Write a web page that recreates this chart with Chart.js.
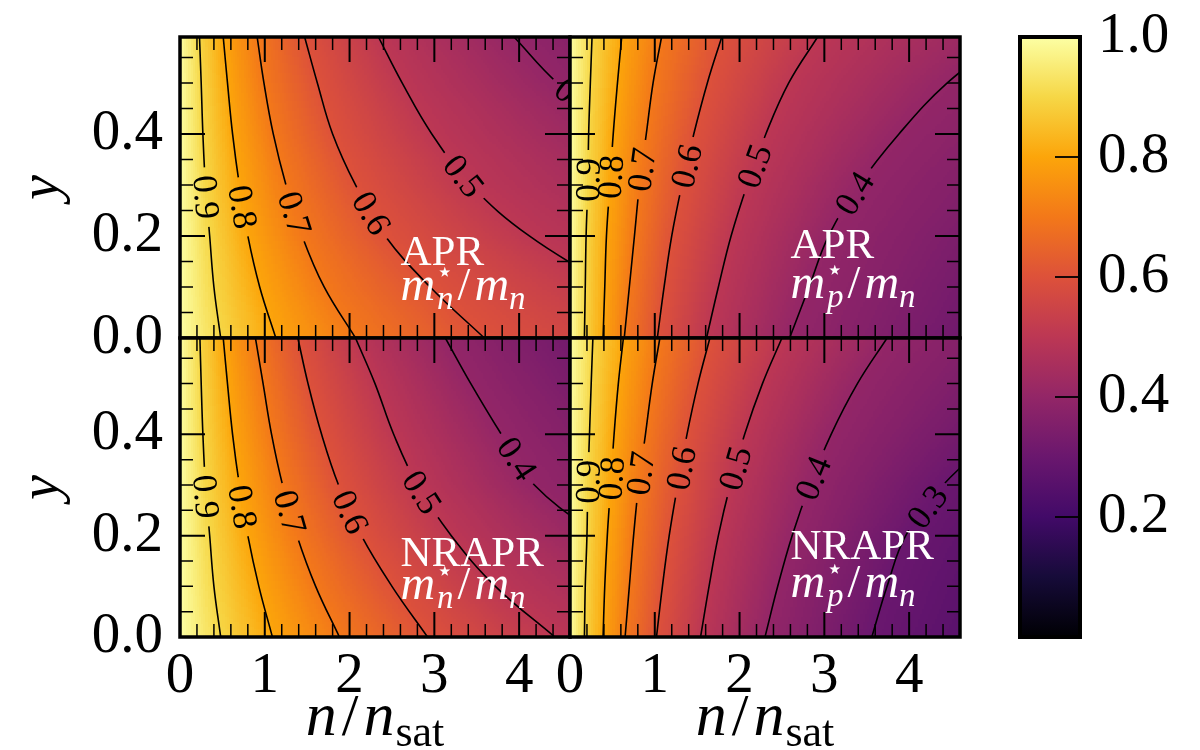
<!DOCTYPE html>
<html>
<head>
<meta charset="utf-8">
<script src="https://cdn.jsdelivr.net/npm/chart.js@4.4.0/dist/chart.umd.min.js"></script>
<style>
  html, body { margin: 0; padding: 0; background: #fff; overflow: hidden; }
  #wrap { position: relative; width: 1200px; height: 750px; }
  #wrap canvas { position: absolute; left: 0; top: 0; }
</style>
</head>
<body>
<div id="wrap">
  <canvas id="aprN" width="1200" height="750"></canvas>
  <canvas id="aprP" width="1200" height="750"></canvas>
  <canvas id="nrN" width="1200" height="750"></canvas>
  <canvas id="nrP" width="1200" height="750"></canvas>
  <canvas id="cbar" width="1200" height="750"></canvas>
</div>
<script>
// y (isospin asymmetry) values at which every contour position was read
const contourY = [0, 0.1, 0.2, 0.3, 0.4, 0.5, 0.59];
// contour levels of m*/m, one row per level below
const levels = [0.9, 0.8, 0.7, 0.6, 0.5, 0.4, 0.3, 0.2];

// n/n_sat where each level is crossed, at each contourY (beyond 4.6 = off the panel, estimated)
const aprNeutron = [
  [0.48, 0.40, 0.35, 0.30, 0.27, 0.25, 0.23],
  [1.13, 0.94, 0.80, 0.70, 0.62, 0.56, 0.51],
  [2.07, 1.70, 1.44, 1.25, 1.10, 0.99, 0.91],
  [3.59, 2.95, 2.42, 2.07, 1.80, 1.62, 1.47],
  [6.2, 5.1, 4.12, 3.43, 2.97, 2.62, 2.34],
  [11.0, 9.2, 7.4, 6.1, 5.2, 4.45, 3.94],
  [17.0, 14.0, 11.0, 9.0, 7.8, 6.9, 6.3]
];
const aprProton = [
  [0.17, 0.18, 0.19, 0.21, 0.22, 0.24, 0.26],
  [0.39, 0.41, 0.43, 0.47, 0.51, 0.56, 0.61],
  [0.64, 0.70, 0.76, 0.82, 0.90, 0.98, 1.08],
  [1.03, 1.11, 1.20, 1.32, 1.46, 1.62, 1.79],
  [1.61, 1.75, 1.90, 2.09, 2.31, 2.58, 2.92],
  [2.59, 2.82, 3.05, 3.41, 3.88, 4.45, 5.15],
  [4.9, 5.3, 5.8, 6.5, 7.4, 8.5, 9.8]
];
const nrAprNeutron = [
  [0.48, 0.40, 0.35, 0.30, 0.27, 0.25, 0.235],
  [1.09, 0.93, 0.80, 0.70, 0.62, 0.56, 0.51],
  [1.88, 1.60, 1.38, 1.21, 1.08, 0.98, 0.89],
  [2.92, 2.50, 2.14, 1.87, 1.67, 1.51, 1.39],
  [4.42, 3.72, 3.20, 2.80, 2.52, 2.30, 2.07],
  [7.0, 5.9, 4.95, 4.18, 3.79, 3.43, 3.13],
  [11.0, 9.5, 8.0, 6.8, 6.0, 5.4, 5.0]
];
const nrAprProton = [
  [0.17, 0.18, 0.20, 0.21, 0.23, 0.25, 0.27],
  [0.39, 0.41, 0.44, 0.48, 0.52, 0.57, 0.63],
  [0.65, 0.70, 0.75, 0.81, 0.89, 0.97, 1.06],
  [1.02, 1.09, 1.17, 1.27, 1.38, 1.51, 1.65],
  [1.54, 1.64, 1.75, 1.89, 2.06, 2.27, 2.50],
  [2.30, 2.45, 2.62, 2.83, 3.08, 3.39, 3.74],
  [3.56, 3.74, 3.96, 4.40, 5.05, 5.7, 6.4],
  [6.0, 6.4, 6.9, 7.6, 8.5, 9.5, 10.6]
];

const xTicks = [0, 1, 2, 3, 4];
const yTicks = [0, 0.2, 0.4];
const cbarTicks = [0.2, 0.4, 0.6, 0.8, 1.0];

const FONT = '"Liberation Serif", "DejaVu Serif", serif';
const inferno = ['#000004', '#160b39', '#420a68', '#6a176e', '#932667', '#bc3754',
                 '#dd513a', '#f37819', '#fca50a', '#f6d746', '#fcffa4'];

// label y position per contour (null = no label), and text placement
const panels = {
  aprN: { rows: aprNeutron, area: [180, 37, 570, 338], yAxis: true, xAxis: false,
          labelY: [0.276, 0.257, 0.245, 0.245, 0.318, 0.47, null],
          model: 'APR', sub: 'n', textN: 2.6, textY: [0.143, 0.074] },
  aprP: { rows: aprProton, area: [570, 37, 960, 338], yAxis: false, xAxis: false,
          labelY: [0.31, 0.316, 0.33, 0.337, 0.337, 0.284, null],
          model: 'APR', sub: 'p', textN: 2.6, textY: [0.157, 0.078] },
  nrN: { rows: nrAprNeutron, area: [180, 338, 570, 637], yAxis: true, xAxis: true,
         labelY: [0.277, 0.257, 0.247, 0.247, 0.286, 0.352, null],
         model: 'NRAPR', sub: 'n', textN: 2.6, textY: [0.14, 0.074] },
  nrP: { rows: nrAprProton, area: [570, 338, 960, 637], yAxis: false, xAxis: true,
         labelY: [0.306, 0.313, 0.323, 0.333, 0.333, 0.314, 0.257, null],
         model: 'NRAPR', sub: 'p', textN: 2.6, textY: [0.153, 0.078] }
};

function hexRgb(h) {
  return [parseInt(h.slice(1, 3), 16), parseInt(h.slice(3, 5), 16), parseInt(h.slice(5, 7), 16)];
}
const lut = [];
(function () {
  const rgb = inferno.map(hexRgb);
  for (let i = 0; i < 256; i++) {
    const t = i / 255 * 10;
    const k = Math.min(9, Math.floor(t));
    const f = t - k;
    const c = rgb[k].map((v, j) => Math.round(v + (rgb[k + 1][j] - v) * f));
    lut.push('rgb(' + c.join(',') + ')');
  }
})();
function colorOf(v) {
  return lut[Math.max(0, Math.min(255, Math.round(v * 255)))];
}

function nAtY(row, y) {
  let i = 0;
  while (i < contourY.length - 2 && y > contourY[i + 1]) i++;
  const f = (y - contourY[i]) / (contourY[i + 1] - contourY[i]);
  return row[i] + (row[i + 1] - row[i]) * f;
}

function valueAt(knots, n) {
  for (let k = 1; k < knots.length; k++) {
    if (n <= knots[k][0]) {
      const a = knots[k - 1], b = knots[k];
      return a[1] + (b[1] - a[1]) * (n - a[0]) / (b[0] - a[0]);
    }
  }
  const a = knots[knots.length - 2], b = knots[knots.length - 1];
  return b[1] + (b[1] - a[1]) * (n - b[0]) / (b[0] - a[0]);
}

function labelGeom(chart, row, ly) {
  const xs = chart.scales.x, ys = chart.scales.y;
  const cx = xs.getPixelForValue(nAtY(row, ly)), cy = ys.getPixelForValue(ly);
  const ax = xs.getPixelForValue(nAtY(row, ly + 0.02)), ay = ys.getPixelForValue(ly + 0.02);
  const bx = xs.getPixelForValue(nAtY(row, ly - 0.02)), by = ys.getPixelForValue(ly - 0.02);
  let ang = Math.atan2(ay - by, ax - bx);
  if (ang > Math.PI / 2) ang -= Math.PI;
  if (ang < -Math.PI / 2) ang += Math.PI;
  return { cx, cy, ang };
}

const LABEL_SIZE = 35;

function drawRich(ctx, x, y, parts, align) {
  let total = 0;
  for (const p of parts) {
    ctx.font = (p.italic ? 'italic ' : '') + p.size + 'px ' + FONT;
    if (!p.over) total += ctx.measureText(p.t).width + (p.dx || 0);
  }
  let cx = align === 'center' ? x - total / 2 : x;
  for (const p of parts) {
    ctx.font = (p.italic ? 'italic ' : '') + p.size + 'px ' + FONT;
    cx += p.dx || 0;
    ctx.fillText(p.t, cx, y + (p.dy || 0));
    if (!p.over) cx += ctx.measureText(p.t).width;
  }
}

const panelPlugin = {
  id: 'panelDraw',
  beforeDatasetsDraw(chart) {
    const cfg = panels[chart.canvas.id];
    const ctx = chart.ctx, xs = chart.scales.x, ys = chart.scales.y;
    const a = chart.chartArea;
    ctx.save();
    ctx.beginPath();
    ctx.rect(a.left, a.top, a.right - a.left, a.bottom - a.top);
    ctx.clip();
    const dy = 0.005, dn = 0.025;
    for (let j = 0; j * dy < 0.59; j++) {
      const y0 = j * dy, yc = y0 + dy / 2;
      const knots = [[0, 1]].concat(cfg.rows.map((r, k) => [nAtY(r, yc), levels[k]]));
      const py0 = Math.round(ys.getPixelForValue(y0 + dy)), py1 = Math.round(ys.getPixelForValue(y0));
      for (let i = 0; i * dn < 4.6; i++) {
        const n0 = i * dn;
        const px0 = Math.round(xs.getPixelForValue(n0)), px1 = Math.round(xs.getPixelForValue(n0 + dn));
        ctx.fillStyle = colorOf(valueAt(knots, n0 + dn / 2));
        ctx.fillRect(px0, py0, px1 - px0, py1 - py0);
      }
    }
    ctx.restore();
  },
  beforeDatasetDraw(chart, args) {
    const cfg = panels[chart.canvas.id];
    const ctx = chart.ctx;
    ctx.save();
    const ly = cfg.labelY[args.index];
    if (ly == null) return;
    const g = labelGeom(chart, cfg.rows[args.index], ly);
    ctx.font = LABEL_SIZE + 'px ' + FONT;
    const w = ctx.measureText(levels[args.index].toFixed(1)).width + 16, h = LABEL_SIZE * 0.8;
    const c = Math.cos(g.ang), s = Math.sin(g.ang);
    const pts = [[-w / 2, -h / 2], [w / 2, -h / 2], [w / 2, h / 2], [-w / 2, h / 2]]
      .map(([u, v]) => [g.cx + u * c - v * s, g.cy + u * s + v * c]);
    ctx.beginPath();
    ctx.rect(0, 0, chart.width, chart.height);
    ctx.moveTo(pts[0][0], pts[0][1]);
    for (let k = 1; k < 4; k++) ctx.lineTo(pts[k][0], pts[k][1]);
    ctx.closePath();
    ctx.clip('evenodd');
  },
  afterDatasetDraw(chart) {
    chart.ctx.restore();
  },
  afterDatasetsDraw(chart) {
    const cfg = panels[chart.canvas.id];
    const ctx = chart.ctx, xs = chart.scales.x, ys = chart.scales.y;
    const a = chart.chartArea;

    // contour labels
    ctx.save();
    ctx.beginPath();
    ctx.rect(a.left, a.top, a.right - a.left, a.bottom - a.top);
    ctx.clip();
    ctx.fillStyle = '#000';
    ctx.font = LABEL_SIZE + 'px ' + FONT;
    ctx.textAlign = 'center';
    ctx.textBaseline = 'alphabetic';
    cfg.labelY.forEach((ly, k) => {
      if (ly == null) return;
      const g = labelGeom(chart, cfg.rows[k], ly);
      ctx.save();
      ctx.translate(g.cx, g.cy);
      ctx.rotate(g.ang);
      ctx.fillText(levels[k].toFixed(1), 0, LABEL_SIZE * 0.33);
      ctx.restore();
    });

    // model name and quantity
    ctx.fillStyle = '#fff';
    ctx.textAlign = 'left';
    const tx = xs.getPixelForValue(cfg.textN);
    ctx.font = '43px ' + FONT;
    ctx.fillText(cfg.model, tx, ys.getPixelForValue(cfg.textY[0]));
    drawRich(ctx, tx, ys.getPixelForValue(cfg.textY[1]), [
      { t: 'm', size: 48, italic: true },
      { t: '\u22C6', size: 28, dy: -19, dx: 1, over: true },
      { t: cfg.sub, size: 33, italic: true, dy: 9, dx: 1 },
      { t: '/', size: 46, dx: 4 },
      { t: 'm', size: 48, italic: true, dx: 4 },
      { t: 'n', size: 33, italic: true, dy: 9 }
    ], 'left');
    ctx.restore();

    // inward ticks on all four sides
    ctx.save();
    ctx.strokeStyle = '#000';
    for (let i = 0; i * 0.2 <= 4.6 + 1e-9; i++) {
      const major = i % 5 === 0, L = major ? 25 : 13;
      const px = xs.getPixelForValue(i * 0.2);
      ctx.lineWidth = major ? 2 : 1.5;
      ctx.beginPath();
      ctx.moveTo(px, a.top); ctx.lineTo(px, a.top + L);
      ctx.moveTo(px, a.bottom); ctx.lineTo(px, a.bottom - L);
      ctx.stroke();
    }
    for (let i = 0; i * 0.05 <= 0.59 + 1e-9; i++) {
      const major = i % 4 === 0, L = major ? 25 : 13;
      const py = ys.getPixelForValue(i * 0.05);
      ctx.lineWidth = major ? 2 : 1.5;
      ctx.beginPath();
      ctx.moveTo(a.left, py); ctx.lineTo(a.left + L, py);
      ctx.moveTo(a.right, py); ctx.lineTo(a.right - L, py);
      ctx.stroke();
    }
    ctx.lineWidth = 3.5;
    ctx.strokeRect(a.left, a.top, a.right - a.left, a.bottom - a.top);

    // axis titles
    ctx.fillStyle = '#000';
    if (cfg.yAxis) {
      ctx.save();
      ctx.translate(58, (a.top + a.bottom) / 2);
      ctx.rotate(-Math.PI / 2);
      ctx.textAlign = 'center';
      ctx.font = 'italic 56px ' + FONT;
      ctx.fillText('y', 0, 0);
      ctx.restore();
    }
    if (cfg.xAxis) {
      ctx.textAlign = 'left';
      drawRich(ctx, (a.left + a.right) / 2, 735, [
        { t: 'n', size: 62, italic: true },
        { t: '/', size: 60, dx: 5 },
        { t: 'n', size: 62, italic: true, dx: 5 },
        { t: 'sat', size: 44, dy: 11, dx: 1 }
      ], 'center');
    }
    ctx.restore();
  }
};

function fixSize(size) {
  return function (s) {
    if (!s.options.display) {
      s.width = s.isHorizontal() ? s.width : 0;
      s.height = s.isHorizontal() ? 0 : s.height;
    } else if (s.isHorizontal()) {
      s.height = size;
    } else {
      s.width = size;
    }
    s.paddingLeft = s.paddingRight = s.paddingTop = s.paddingBottom = 0;
  };
}

const tickFont = { family: FONT, size: 57 };

Object.keys(panels).forEach(id => {
  const cfg = panels[id];
  const [l, t, r, b] = cfg.area;
  new Chart(document.getElementById(id), {
    type: 'scatter',
    data: {
      datasets: cfg.rows.map((row, k) => ({
        label: levels[k].toFixed(1),
        data: contourY.map((y, i) => ({ x: row[i], y: y })),
        showLine: true,
        borderColor: '#000',
        borderWidth: 1.6,
        pointRadius: 0,
        tension: 0.4,
        clip: 0
      }))
    },
    options: {
      responsive: false,
      animation: false,
      events: [],
      layout: {
        autoPadding: false,
        padding: { left: l - (cfg.yAxis ? 110 : 0), top: t, right: 1200 - r, bottom: 750 - b - (cfg.xAxis ? 70 : 0) }
      },
      elements: { line: { capBezierPoints: false } },
      plugins: { legend: { display: false }, tooltip: { enabled: false } },
      scales: {
        x: {
          type: 'linear', min: 0, max: 4.6, display: cfg.xAxis,
          grid: { display: false, drawTicks: false }, border: { display: false },
          afterBuildTicks: s => { s.ticks = xTicks.map(v => ({ value: v })); },
          afterFit: fixSize(70),
          ticks: { font: tickFont, color: '#000', padding: 6, maxRotation: 0, autoSkip: false,
                   callback: v => String(v) }
        },
        y: {
          type: 'linear', min: 0, max: 0.59, display: cfg.yAxis,
          grid: { display: false, drawTicks: false }, border: { display: false },
          afterBuildTicks: s => { s.ticks = yTicks.map(v => ({ value: v })); },
          afterFit: fixSize(110),
          ticks: { font: tickFont, color: '#000', padding: 17, autoSkip: false,
                   callback: v => v.toFixed(1) }
        }
      }
    },
    plugins: [panelPlugin]
  });
});

// colour bar
new Chart(document.getElementById('cbar'), {
  type: 'scatter',
  data: { datasets: [] },
  options: {
    responsive: false,
    animation: false,
    events: [],
    layout: { autoPadding: false, padding: { left: 1020, top: 37, right: 0, bottom: 113 } },
    plugins: { legend: { display: false }, tooltip: { enabled: false } },
    scales: {
      x: { type: 'linear', min: 0, max: 1, display: false, afterFit: fixSize(0) },
      y: {
        type: 'linear', min: 0, max: 1, position: 'right',
        grid: { display: false, drawTicks: false }, border: { display: false },
        afterBuildTicks: s => { s.ticks = cbarTicks.map(v => ({ value: v })); },
        afterFit: fixSize(120),
        ticks: { font: tickFont, color: '#000', padding: 18, autoSkip: false,
                 callback: v => v.toFixed(1) }
      }
    }
  },
  plugins: [{
    id: 'cbarDraw',
    beforeDatasetsDraw(chart) {
      const ctx = chart.ctx, ys = chart.scales.y, a = chart.chartArea;
      const g = ctx.createLinearGradient(0, ys.getPixelForValue(0), 0, ys.getPixelForValue(1));
      inferno.forEach((c, i) => g.addColorStop(i / 10, c));
      ctx.fillStyle = g;
      ctx.fillRect(a.left, a.top, a.right - a.left, a.bottom - a.top);
    },
    afterDatasetsDraw(chart) {
      const ctx = chart.ctx, ys = chart.scales.y, a = chart.chartArea;
      ctx.save();
      ctx.strokeStyle = '#000';
      ctx.lineWidth = 1.8;
      cbarTicks.forEach(v => {
        if (v >= 1) return;
        const py = ys.getPixelForValue(v);
        ctx.beginPath();
        ctx.moveTo(a.right, py);
        ctx.lineTo(a.right - 25, py);
        ctx.stroke();
      });
      ctx.lineWidth = 4;
      ctx.strokeRect(a.left, a.top, a.right - a.left, a.bottom - a.top);
      ctx.restore();
    }
  }]
});
</script>
</body>
</html>
